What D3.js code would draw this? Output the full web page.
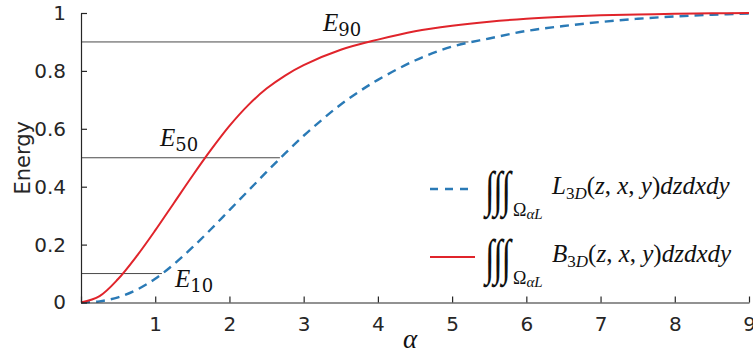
<!DOCTYPE html>
<html>
<head>
<meta charset="utf-8">
<script src="https://cdn.jsdelivr.net/npm/d3@7"></script>
<style>
  html, body { margin: 0; padding: 0; background: #fff; }
  svg { display: block; }
</style>
</head>
<body>
<div id="chart"></div>
<script>
// ---- data ----
const alphaB = [0, 0.25, 0.5, 0.75, 1, 1.25, 1.5, 1.75, 2, 2.25, 2.5, 2.75, 3, 3.5, 4, 4.5, 5, 5.5, 6, 6.5, 7, 7.5, 8, 8.5, 9];
const energyB = [0, 0.022, 0.081, 0.16, 0.249, 0.343, 0.437, 0.527, 0.61, 0.681, 0.739, 0.784, 0.82, 0.873, 0.908, 0.937, 0.956, 0.97, 0.98, 0.987, 0.992, 0.995, 0.997, 0.999, 1.0];
const alphaL = [0, 0.25, 0.5, 0.75, 1, 1.25, 1.5, 1.75, 2, 2.25, 2.5, 2.75, 3, 3.25, 3.5, 3.75, 4, 4.5, 5, 5.5, 6, 6.5, 7, 7.5, 8, 8.5, 9];
const energyL = [0, 0.004, 0.018, 0.044, 0.082, 0.132, 0.19, 0.253, 0.319, 0.385, 0.451, 0.515, 0.576, 0.632, 0.684, 0.729, 0.769, 0.836, 0.884, 0.912, 0.938, 0.955, 0.969, 0.98, 0.988, 0.994, 0.998];
const xTicks = [1, 2, 3, 4, 5, 6, 7, 8, 9];
const yTicks = [0, 0.2, 0.4, 0.6, 0.8, 1];
const yTickLabels = ["0", "0.2", "0.4", "0.6", "0.8", "1"];
const refLevels = [0.1, 0.5, 0.9];
const refEnds = [1.09, 2.68, 5.22];
const refNames = ["10", "50", "90"];

// ---- layout ----
const W = 753, H = 355;
const svg = d3.select("#chart").append("svg").attr("width", W).attr("height", H);
const x = d3.scaleLinear().domain([0, 9]).range([81, 749]);
const y = d3.scaleLinear().domain([0, 1]).range([302.5, 13]);
const axisColor = "#262626";
const red = "#e0242b", blue = "#2a7ab6";

// reference lines
refLevels.forEach((lv, i) => {
  svg.append("line")
    .attr("x1", x(0)).attr("x2", x(refEnds[i]))
    .attr("y1", y(lv)).attr("y2", y(lv))
    .attr("stroke", "#4a4a4a").attr("stroke-width", 1);
});

// curves
const lineGen = (xs) => d3.line().x((d, i) => x(xs[i])).y(d => y(d)).curve(d3.curveCatmullRom.alpha(0.5));
svg.append("path").datum(energyL)
  .attr("d", lineGen(alphaL)).attr("fill", "none")
  .attr("stroke", blue).attr("stroke-width", 2.4).attr("stroke-dasharray", "9,6");
svg.append("path").datum(energyB)
  .attr("d", lineGen(alphaB)).attr("fill", "none")
  .attr("stroke", red).attr("stroke-width", 2);

// axes
const xAxis = d3.axisBottom(x).tickValues([0].concat(xTicks)).tickSizeInner(-6).tickSizeOuter(0)
  .tickFormat(d => d === 0 ? "" : d3.format("d")(d)).tickPadding(14);
const gx = svg.append("g").attr("transform", `translate(0,${y(0)})`).call(xAxis);
const yAxis = d3.axisLeft(y).tickValues(yTicks).tickSizeInner(-6).tickSizeOuter(0)
  .tickFormat((d, i) => yTickLabels[i]).tickPadding(15);
const gy = svg.append("g").attr("transform", `translate(${x(0)},0)`).call(yAxis);
[gx, gy].forEach(g => {
  g.select(".domain").attr("stroke", axisColor).attr("stroke-width", 1.2);
  g.selectAll(".tick line").attr("stroke", axisColor).attr("stroke-width", 1.2);
  g.selectAll(".tick text").attr("fill", axisColor)
    .style("font-family", "'DejaVu Sans', sans-serif").style("font-size", "20px");
});
gx.selectAll(".tick text").attr("dy", "0.71em");

// axis titles
svg.append("text").attr("transform", `translate(30,${(y(0) + y(1)) / 2}) rotate(-90)`)
  .attr("text-anchor", "middle").attr("fill", axisColor)
  .style("font-family", "'DejaVu Sans', sans-serif").style("font-size", "21px").text("Energy");
svg.append("text").attr("x", 410).attr("y", 348).attr("text-anchor", "middle").attr("fill", "#111")
  .style("font-family", "'Liberation Serif', serif").style("font-style", "italic").style("font-size", "27px").text("α");

// E labels
const ePos = [[175, 287], [160, 146], [323, 31]];
refNames.forEach((n, i) => {
  const t = svg.append("text").attr("x", ePos[i][0]).attr("y", ePos[i][1]).attr("fill", "#111")
    .style("font-family", "'Liberation Serif', serif").style("font-size", "25px");
  t.append("tspan").style("font-style", "italic").text("E");
  t.append("tspan").attr("dx", 0).attr("dy", 5).style("font-family", "'DejaVu Serif', serif").style("font-size", "18px").text(n);
});

// legend
const legendRows = [
  { y: 189, color: blue, dash: "8,7", letter: "L" },
  { y: 257, color: red, dash: null, letter: "B" }
];
legendRows.forEach(r => {
  svg.append("line").attr("x1", 430).attr("x2", 475).attr("y1", r.y).attr("y2", r.y)
    .attr("stroke", r.color).attr("stroke-width", r.dash ? 2.4 : 2.2)
    .attr("stroke-dasharray", r.dash);
  // triple integral
  const ix = 485, iy = r.y + 17;
  svg.append("text").attr("x", 0).attr("y", 0)
    .attr("transform", `translate(${ix},${iy}) scale(0.74,1.08)`)
    .attr("fill", "#111").style("font-family", "'Liberation Serif', serif").style("font-size", "46px")
    .style("letter-spacing", "-1.5px")
    .text("∫∫∫");
  // subscript Omega_alpha L
  const s = svg.append("text").attr("x", 513).attr("y", r.y + 27).attr("fill", "#111")
    .style("font-family", "'Liberation Serif', serif").style("font-size", "18px");
  s.append("tspan").text("Ω");
  s.append("tspan").attr("dy", 3).style("font-style", "italic").style("font-size", "15px").text("αL");
  // integrand
  const t = svg.append("text").attr("x", 552).attr("y", r.y + 5).attr("fill", "#111")
    .style("font-family", "'Liberation Serif', serif").style("font-size", "25px");
  t.append("tspan").style("font-style", "italic").text(r.letter);
  t.append("tspan").attr("dy", 5).style("font-size", "17px").text("3");
  t.append("tspan").style("font-size", "17px").style("font-style", "italic").text("D");
  t.append("tspan").attr("dy", -5).text("(");
  t.append("tspan").style("font-style", "italic").text("z");
  t.append("tspan").text(", ");
  t.append("tspan").style("font-style", "italic").text("x");
  t.append("tspan").text(", ");
  t.append("tspan").style("font-style", "italic").text("y");
  t.append("tspan").text(")");
  t.append("tspan").style("font-style", "italic").text("dzdxdy");
});
</script>
</body>
</html>
